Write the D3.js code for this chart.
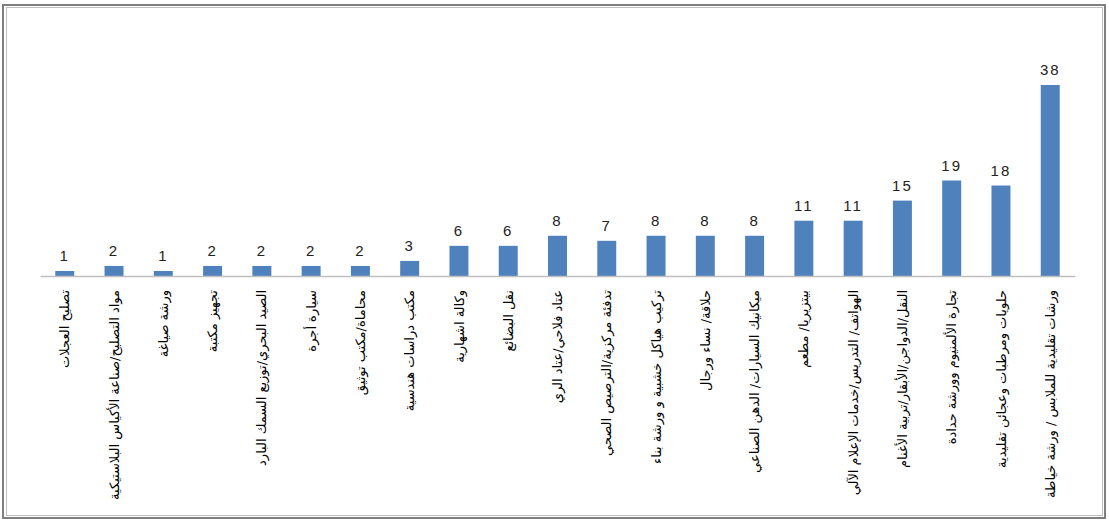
<!DOCTYPE html>
<html>
<head>
<meta charset="utf-8">
<script src="https://cdn.jsdelivr.net/npm/d3@7"></script>
<style>
html,body{margin:0;padding:0;background:#fff;}
svg{display:block;}
</style>
</head>
<body>
<svg id="chart" width="1109" height="521"></svg>
<script>
const categories = [
  "تصليح العجلات",
  "مواد التصليح/صناعة الأكياس البلاستيكية",
  "ورشة صياغة",
  "تجهيز مكتبة",
  "الصيد البحري/توزيع السمك البارد",
  "سيارة أجرة",
  "محاماة/مكتب توثيق",
  "مكتب دراسات هندسية",
  "وكالة اشهارية",
  "نقل البضائع",
  "عتاد فلاحي/عتاد الري",
  "تدفئة مركزية/الترصيص الصحي",
  "تركيب هياكل خشبية و ورشة بناء",
  "حلاقة/ نساء ورجال",
  "ميكانيك السيارات/ الدهن الصناعي",
  "بيتزيريا/ مطعم",
  "الهواتف/ التدريس/خدمات الإعلام الآلي",
  "النقل/الدواجن/الأبقار/تربية الأغنام",
  "تجارة الألمنيوم وورشة حدادة",
  "حلويات ومرطبات وعجائن تقليدية",
  "ورشات تقليدية للملابس / ورشة خياطة"
];
const values = [1, 2, 1, 2, 2, 2, 2, 3, 6, 6, 8, 7, 8, 8, 8, 11, 11, 15, 19, 18, 38];

const svg = d3.select("#chart");

// outer frame
svg.append("rect").attr("x", 3).attr("y", 5).attr("width", 1102).attr("height", 513)
  .attr("fill", "none").attr("stroke", "#7f7f7f").attr("stroke-width", 2);
svg.append("rect").attr("x", 6.5).attr("y", 7.5).attr("width", 1096).attr("height", 508)
  .attr("fill", "none").attr("stroke", "#bfbfbf").attr("stroke-width", 1);

const x = d3.scaleBand().domain(categories).range([40, 1075]).paddingInner(0.615).paddingOuter(0.31);
const y = d3.scaleLinear().domain([0, 38]).range([276, 85]);

// bars
svg.append("g").selectAll("rect").data(values).join("rect")
  .attr("x", (d, i) => x(categories[i]))
  .attr("y", d => y(d))
  .attr("width", x.bandwidth())
  .attr("height", d => y(0) - y(d))
  .attr("fill", "#4f81bd");

// axis
const axis = d3.axisBottom(x).tickSize(0).tickFormat("");
const gx = svg.append("g").attr("transform", `translate(0,${y(0)})`).call(axis);
gx.select(".domain").attr("stroke", "#bfbfbf").attr("stroke-width", 1.5);

// value labels
svg.append("g").selectAll("text").data(values).join("text")
  .attr("x", (d, i) => x(categories[i]) + x.bandwidth() / 2)
  .attr("y", d => y(d) - 10)
  .attr("text-anchor", "middle")
  .attr("font-family", "Liberation Sans, Arial, sans-serif")
  .attr("font-size", 15)
  .attr("letter-spacing", 2)
  .attr("fill", "#222")
  .text(d => d);

// category labels (rotated)
svg.append("g").selectAll("text").data(categories).join("text")
  .attr("transform", d => `translate(${x(d) + x.bandwidth() / 2},290) rotate(-90)`)
  .attr("text-anchor", "end")
  .attr("dy", "0.35em")
  .attr("font-family", "DejaVu Sans, sans-serif")
  .attr("font-size", 13)
  .attr("fill", "#000")
  .text(d => d);
</script>
</body>
</html>
